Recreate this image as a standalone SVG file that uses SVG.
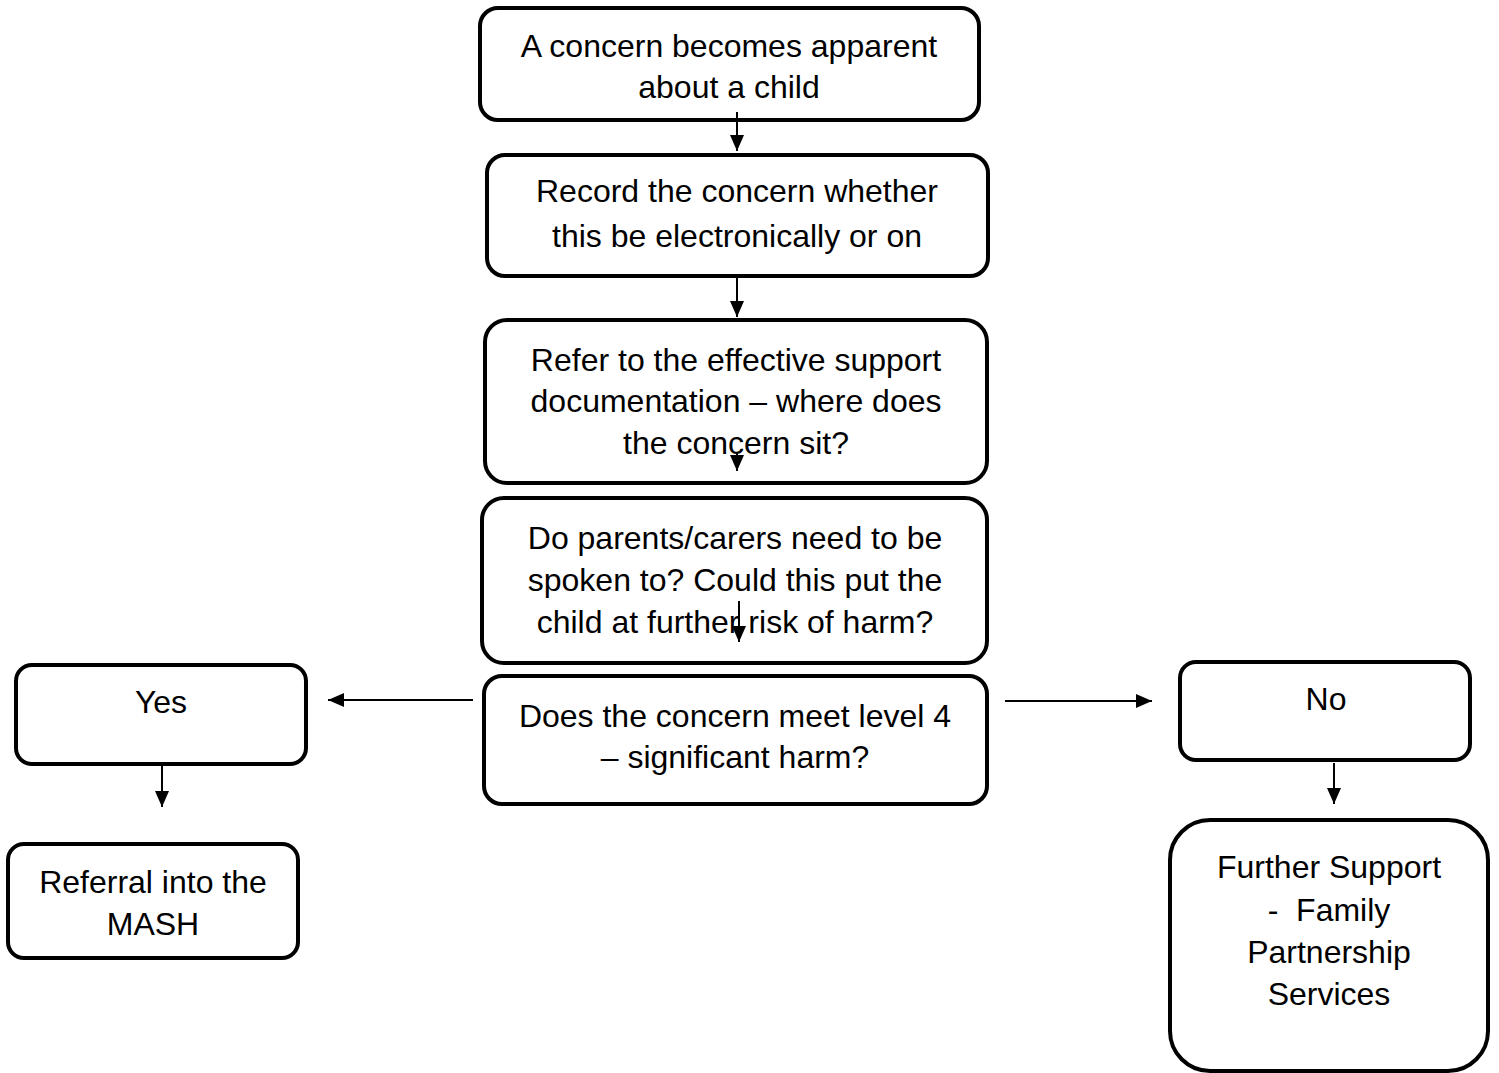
<svg xmlns="http://www.w3.org/2000/svg" width="1499" height="1073" viewBox="0 0 1499 1073">
<defs>
<marker id="ah" markerWidth="16" markerHeight="14" viewBox="0 0 16 14" refX="16" refY="7" orient="auto" markerUnits="userSpaceOnUse">
<path d="M0,0 L16,7 L0,14 Z" fill="#000"/>
</marker>
<style>
.box{fill:#fff;stroke:#000;stroke-width:4}
.t{font-family:"Liberation Sans",Arial,sans-serif;font-size:32px;fill:#000;text-anchor:middle}
.c{stroke:#000;stroke-width:2;fill:none;marker-end:url(#ah)}
</style>
</defs>
<rect width="1499" height="1073" fill="#fff"/>
<g id="n1"><rect class="box" x="480" y="8" width="499" height="112" rx="18"/>
<text class="t" x="729" y="57">A concern becomes apparent</text><text class="t" x="729" y="98">about a child</text></g>
<g id="n2"><rect class="box" x="487" y="155" width="501" height="121" rx="18"/>
<text class="t" x="737" y="202">Record the concern whether</text><text class="t" x="737" y="247">this be electronically or on</text></g>
<g id="n3"><rect class="box" x="485" y="320" width="502" height="163" rx="22"/>
<text class="t" x="736" y="371">Refer to the effective support</text><text class="t" x="736" y="412">documentation – where does</text><text class="t" x="736" y="454">the concern sit?</text></g>
<g id="n4"><rect class="box" x="482" y="498" width="505" height="165" rx="22"/>
<text class="t" x="735" y="549">Do parents/carers need to be</text><text class="t" x="735" y="591">spoken to? Could this put the</text><text class="t" x="735" y="633">child at further risk of harm?</text></g>
<g id="n5"><rect class="box" x="484" y="676" width="503" height="128" rx="18"/>
<text class="t" x="735" y="727">Does the concern meet level 4</text><text class="t" x="735" y="768">– significant harm?</text></g>
<g id="yes"><rect class="box" x="16" y="665" width="290" height="99" rx="16"/>
<text class="t" x="161" y="713">Yes</text></g>
<g id="mash"><rect class="box" x="8" y="844" width="290" height="114" rx="16"/>
<text class="t" x="153" y="893">Referral into the</text><text class="t" x="153" y="935">MASH</text></g>
<g id="no"><rect class="box" x="1180" y="662" width="290" height="98" rx="16"/>
<text class="t" x="1326" y="710">No</text></g>
<g id="fps"><rect class="box" x="1170" y="820" width="318" height="251" rx="40"/>
<text class="t" x="1329" y="878">Further Support</text><text class="t" x="1329" y="921" xml:space="preserve">-  Family</text><text class="t" x="1329" y="963">Partnership</text><text class="t" x="1329" y="1005">Services</text></g>
<g id="connectors">
<line class="c" x1="737" y1="112" x2="737" y2="151"/>
<line class="c" x1="737" y1="278" x2="737" y2="317"/>
<line class="c" x1="737" y1="452" x2="737" y2="471"/>
<line class="c" x1="739" y1="601" x2="739" y2="642"/>
<line class="c" x1="473" y1="700" x2="328" y2="700"/>
<line class="c" x1="1005" y1="701" x2="1152" y2="701"/>
<line class="c" x1="162" y1="765" x2="162" y2="807"/>
<line class="c" x1="1334" y1="763" x2="1334" y2="804"/>
</g>
</svg>
